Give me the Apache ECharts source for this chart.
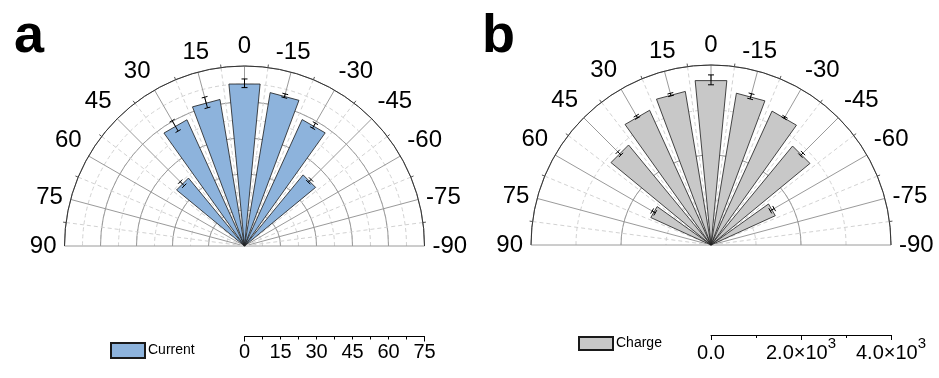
<!DOCTYPE html>
<html>
<head>
<meta charset="utf-8">
<script src="https://cdn.jsdelivr.net/npm/echarts@6/dist/echarts.min.js"></script>
<style>
  html, body { margin: 0; padding: 0; background: #fff; }
  #chart { width: 939px; height: 378px; }
</style>
</head>
<body>
<div id="chart"></div>
<script>
// Bar directions (degrees) and mean values with their error half-widths
const currentAngles = [45, 30, 15, 0, -15, -30, -45];
const currentValues = [36.7, 57.8, 61.9, 67.8, 64.8, 57.9, 38.4];
const currentErrors = [1.2, 2.5, 2.3, 1.8, 0.8, 1.2, 0.8];

const chargeAngles = [60, 45, 30, 15, 0, -15, -30, -45, -60];
const chargeValues = [1470, 2880, 3290, 3460, 3670, 3420, 3270, 2850, 1570];
const chargeErrors = [40, 50, 30, 30, 110, 60, 20, 40, 50];

// Tick labels
const angleTicks = [90, 75, 60, 45, 30, 15, 0, -15, -30, -45, -60, -75, -90];
const currentScaleLabels = [0, 15, 30, 45, 60, 75];
const chargeScaleLabels = [0, 2000, 4000];

const FONT = 'Liberation Sans, Arial, sans-serif';
const BLUE = '#8db3dc';
const GREY = '#c8c8c8';
const EDGE = '#1a1a1a';
const MAJOR = '#9a9a9a';
const MINOR = '#d2d2d2';
const HALF_WIDTH = 5.5;   // half the angular width of each bar, degrees
const CAP = 3;            // half-length of error-bar caps, px

const centerA = [244.5, 246];
const centerB = [711, 245];

function toData(values, angles, errors) {
  return values.map((v, i) => [v, angles[i], errors[i]]);
}

function wedgeRenderer(fill) {
  return function (params, api) {
    const r = api.value(0), a = api.value(1), e = api.value(2);
    const o = api.coord([0, a]);
    const p1 = api.coord([r, a - HALF_WIDTH]);
    const p2 = api.coord([r, a + HALF_WIDTH]);
    const tip = api.coord([r, a]);
    const lo = api.coord([r - e, a]);
    const hi = api.coord([r + e, a]);
    const dx = tip[0] - o[0], dy = tip[1] - o[1];
    const len = Math.hypot(dx, dy) || 1;
    const nx = -dy / len * CAP, ny = dx / len * CAP;
    const ln = (x1, y1, x2, y2) => ({
      type: 'line', shape: { x1, y1, x2, y2 },
      style: { stroke: '#000', lineWidth: 1 }
    });
    return {
      type: 'group',
      children: [
        { type: 'polygon', shape: { points: [o, p1, p2] },
          style: { fill: fill, stroke: EDGE, lineWidth: 0.8 } },
        ln(lo[0], lo[1], hi[0], hi[1]),
        ln(lo[0] - nx, lo[1] - ny, lo[0] + nx, lo[1] + ny),
        ln(hi[0] - nx, hi[1] - ny, hi[0] + nx, hi[1] + ny)
      ]
    };
  };
}

// Main angle axis: labels, outer arc, solid and dashed spokes
function angleAxis(idx) {
  return {
    polarIndex: idx,
    type: 'value',
    min: -90, max: 90, interval: 15,
    startAngle: 0, endAngle: 180, clockwise: false,
    axisLine: { show: true, lineStyle: { color: '#333', width: 1 } },
    axisTick: { show: false },
    minorTick: { show: true, splitNumber: 2, length: 3, lineStyle: { color: '#555' } },
    axisLabel: {
      margin: 8, fontSize: 24, color: '#000', fontFamily: FONT,
      formatter: v => angleTicks.indexOf(v) >= 0 ? String(v) : ''
    },
    splitLine: { show: true, lineStyle: { color: MAJOR, width: 1 } },
    minorSplitLine: { show: true, lineStyle: { color: MINOR, width: 1, type: [4, 3] } },
    z: 2
  };
}

// Bare half-circle frame that only carries the dashed rings
function ringAngleAxis(idx) {
  return {
    polarIndex: idx,
    type: 'value',
    min: -90, max: 90, interval: 15,
    startAngle: 0, endAngle: 180, clockwise: false,
    axisLine: { show: false }, axisTick: { show: false }, axisLabel: { show: false },
    splitLine: { show: false }, z: 0
  };
}

function radiusAxis(idx, max, interval, dashed) {
  return {
    polarIndex: idx,
    type: 'value', min: 0, max: max, interval: interval,
    axisLine: { show: false }, axisTick: { show: false }, axisLabel: { show: false },
    splitLine: { show: true, lineStyle: dashed
      ? { color: MINOR, width: 1, type: [4, 3] }
      : { color: MAJOR, width: 1 } },
    z: dashed ? 0 : 2
  };
}

const option = {
  animation: false,
  backgroundColor: '#fff',
  title: [
    { text: 'a', left: 9, top: 5, textStyle: { fontSize: 54, fontWeight: 'bold', color: '#000', fontFamily: FONT } },
    { text: 'b', left: 477, top: 5, textStyle: { fontSize: 54, fontWeight: 'bold', color: '#000', fontFamily: FONT } }
  ],
  legend: [
    { data: ['Current'], left: 105, top: 337, itemWidth: 34, itemHeight: 15, icon: 'rect',
      textStyle: { fontSize: 14, color: '#000', fontFamily: FONT, padding: [0, 0, 0, -2] } },
    { data: ['Charge'], left: 573, top: 331, itemWidth: 34, itemHeight: 13, icon: 'rect',
      textStyle: { fontSize: 14, color: '#000', fontFamily: FONT, padding: [0, 0, 0, -2] } }
  ],
  polar: [
    { center: centerA, radius: 180 },
    { center: centerB, radius: 180 },
    { center: centerA, radius: 180 },
    { center: centerB, radius: 180 }
  ],
  angleAxis: [angleAxis(0), angleAxis(1), ringAngleAxis(2), ringAngleAxis(3)],
  radiusAxis: [
    radiusAxis(0, 75, 15, false),
    radiusAxis(1, 4000, 2000, false),
    radiusAxis(2, 75, 7.5, true),
    radiusAxis(3, 4000, 1000, true)
  ],
  grid: [
    { left: 244.5, width: 180, top: 300, height: 36.5 },
    { left: 711, width: 180, top: 300, height: 35 }
  ],
  xAxis: [
    { gridIndex: 0, type: 'value', position: 'bottom', min: 0, max: 75, interval: 7.5,
      axisLine: { lineStyle: { color: '#000', width: 1 } },
      axisTick: { length: 3, lineStyle: { color: '#000' } },
      splitLine: { show: false },
      axisLabel: { margin: 6, fontSize: 20, color: '#000', fontFamily: FONT,
        formatter: v => currentScaleLabels.indexOf(v) >= 0 ? String(v) : '' } },
    { gridIndex: 0, type: 'value', position: 'bottom', min: 0, max: 75, interval: 75,
      axisLine: { show: false }, axisLabel: { show: false }, splitLine: { show: false },
      axisTick: { length: 5, lineStyle: { color: '#000' } } },
    { gridIndex: 1, type: 'value', position: 'bottom', min: 0, max: 4000, interval: 1000,
      axisLine: { lineStyle: { color: '#000', width: 1 } },
      axisTick: { length: 3, lineStyle: { color: '#000' } },
      splitLine: { show: false },
      axisLabel: {
        margin: 1, color: '#000', fontFamily: FONT, fontSize: 20,
        rich: {
          m: { fontSize: 20, fontFamily: FONT, color: '#000', lineHeight: 34 },
          s: { fontSize: 15, fontFamily: FONT, color: '#000', verticalAlign: 'top' }
        },
        formatter: v => {
          if (chargeScaleLabels.indexOf(v) < 0) return '';
          if (v === 0) return '{m|0.0}';
          return '{m|' + (v / 1000).toFixed(1) + '×10}{s|3}';
        } } },
    { gridIndex: 1, type: 'value', position: 'bottom', min: 0, max: 4000, interval: 2000,
      axisLine: { show: false }, axisLabel: { show: false }, splitLine: { show: false },
      axisTick: { length: 5, lineStyle: { color: '#000' } } }
  ],
  yAxis: [
    { gridIndex: 0, show: false, min: 0, max: 1 },
    { gridIndex: 1, show: false, min: 0, max: 1 }
  ],
  series: [
    { name: 'Current', type: 'custom', coordinateSystem: 'polar', polarIndex: 0,
      itemStyle: { color: BLUE, borderColor: EDGE, borderWidth: 1 },
      renderItem: wedgeRenderer(BLUE),
      data: toData(currentValues, currentAngles, currentErrors), z: 5 },
    { name: 'Charge', type: 'custom', coordinateSystem: 'polar', polarIndex: 1,
      itemStyle: { color: GREY, borderColor: EDGE, borderWidth: 1 },
      renderItem: wedgeRenderer(GREY),
      data: toData(chargeValues, chargeAngles, chargeErrors), z: 5 }
  ]
};

const chart = echarts.init(document.getElementById('chart'), null, { renderer: 'canvas' });
chart.setOption(option);
</script>
</body>
</html>
